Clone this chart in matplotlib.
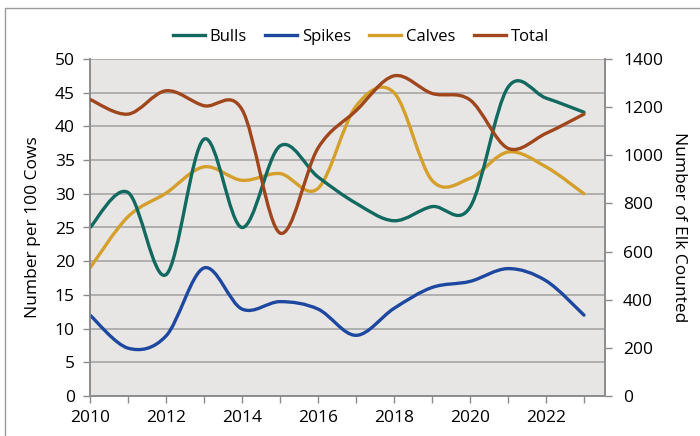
import matplotlib
matplotlib.use("Agg")
import matplotlib.pyplot as plt
from matplotlib.path import Path
from matplotlib.patches import PathPatch, Rectangle
from matplotlib.lines import Line2D

plt.rcParams['font.family'] = ['Open Sans', 'DejaVu Sans']

years = [2010, 2011, 2012, 2013, 2014, 2015, 2016, 2017, 2018, 2019, 2020, 2021, 2022, 2023]
bulls = [25, 30.2, 18, 38.1, 25, 37.1, 32.5, 28.6, 26, 28.1, 28, 45.8, 44.2, 42.1]
spikes = [12, 7.1, 8.9, 19, 12.9, 14, 12.9, 9, 13, 16.1, 17, 18.9, 17.1, 12]
calves = [19, 26.6, 30.1, 34, 32, 33, 30.8, 43, 45, 32, 32.3, 36.2, 34, 30]
total = [1232, 1171, 1268, 1206, 1190, 677, 1030, 1185, 1330, 1257, 1230, 1029, 1091, 1171]

series_names = ["Bulls", "Spikes", "Calves", "Total"]
colors = {"Bulls": "#11695f", "Spikes": "#1e48a0", "Calves": "#d4a02b", "Total": "#a0461d"}

left_ticks = list(range(0, 51, 5))
right_ticks = list(range(0, 1401, 200))
x_ticks = [2010, 2012, 2014, 2016, 2018, 2020, 2022]


def smooth_path(xs, ys):
    pts = list(zip(xs, ys))
    n = len(pts)
    verts = [pts[0]]
    codes = [Path.MOVETO]
    for i in range(n - 1):
        p0 = pts[i - 1] if i > 0 else pts[i]
        p1 = pts[i]
        p2 = pts[i + 1]
        p3 = pts[i + 2] if i + 2 < n else pts[i + 1]
        c1 = (p1[0] + (p2[0] - p0[0]) / 6.0, p1[1] + (p2[1] - p0[1]) / 6.0)
        c2 = (p2[0] - (p3[0] - p1[0]) / 6.0, p2[1] - (p3[1] - p1[1]) / 6.0)
        verts += [c1, c2, p2]
        codes += [Path.CURVE4] * 3
    return Path(verts, codes)


FS = 12.5

fig = plt.figure(figsize=(7, 4.36), dpi=100)
fig.patches.append(Rectangle((5 / 700, -0.1), 1.2, (436 - 8) / 436 + 0.1,
                             transform=fig.transFigure, fill=False,
                             edgecolor="#9a9a9a", linewidth=1.0))

ax = fig.add_axes([90 / 700, 40 / 436, 515 / 700, 337 / 436])
ax.set_facecolor("#e7e6e5")
ax.set_xlim(2010, 2010 + 515 / 38)
ax.set_ylim(0, 50)
ax2 = ax.twinx()
ax2.set_ylim(0, 1400)

for name, vals in [("Calves", calves), ("Bulls", bulls), ("Spikes", spikes)]:
    ax.add_patch(PathPatch(smooth_path(years, vals), fill=False,
                           edgecolor=colors[name], linewidth=2.4,
                           capstyle="round", joinstyle="round", zorder=3))
ax2.add_patch(PathPatch(smooth_path(years, total), fill=False,
                        edgecolor=colors["Total"], linewidth=2.4,
                        capstyle="round", joinstyle="round", zorder=3))
ax2.set_zorder(ax.get_zorder() + 1)
ax2.patch.set_visible(False)

ax.set_yticks(left_ticks)
ax2.set_yticks(right_ticks)
ax.set_xticks(years, minor=False)
ax.set_xticklabels([str(y) if y in x_ticks else "" for y in years])
ax.yaxis.grid(True, color="#a6a6a6", linewidth=1.2)
ax.set_axisbelow(True)

for a in (ax, ax2):
    for s in a.spines.values():
        s.set_color("#8c8c8c")
        s.set_linewidth(1.2)
    a.tick_params(colors="#8c8c8c", labelcolor="black", labelsize=FS,
                  length=5, width=1.0)
ax.tick_params(axis="x", pad=5)
ax.tick_params(axis="y", pad=6)
ax2.tick_params(axis="y", pad=8)
ax.spines["top"].set_visible(False)
ax2.spines["top"].set_visible(False)

ax.set_ylabel("Number per 100 Cows", fontsize=FS, labelpad=10)
ax2.set_ylabel("Number of Elk Counted", fontsize=FS, rotation=-90, labelpad=17)

handles = [Line2D([0], [0], color=colors[n], linewidth=2.4) for n in series_names]
fig.legend(handles, series_names, loc="center", bbox_to_anchor=(361 / 700, 1 - 37 / 436),
           ncol=4, frameon=False, fontsize=12, handlelength=1.9,
           handletextpad=0.3, columnspacing=1.1)

fig.savefig("out.png", dpi=100)
